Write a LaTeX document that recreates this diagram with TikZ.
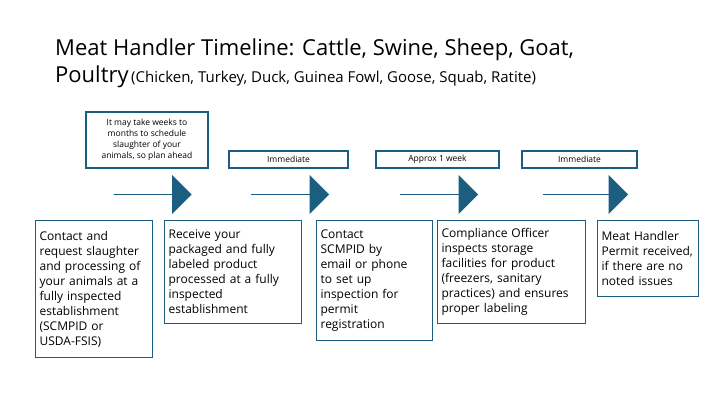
\documentclass[tikz,border=0pt]{standalone}
\usepackage{fontspec}
\setmainfont{Open Sans}
\usetikzlibrary{shapes.arrows,positioning}
\definecolor{tealblue}{HTML}{1B5E80}
\begin{document}
\begin{tikzpicture}[x=1pt,y=1pt,yscale=-1]
  \tikzstyle{stepbox} = [draw=tealblue,line width=1.2pt,anchor=north west,inner sep=4pt,align=left,font=\fontsize{12}{15}\selectfont]
  \tikzstyle{timing} = [draw=tealblue,line width=1.2pt,align=center,inner sep=2pt,font=\fontsize{8.5}{11}\selectfont]
  \tikzstyle{arrow} = [single arrow,fill=tealblue,draw=none,minimum height=78pt,minimum width=39pt,single arrow head extend=10pt,inner sep=0pt,single arrow tip angle=90]
  \useasboundingbox (0,0) rectangle (720,405);
  %Draw the title
  \node[anchor=base west,font=\fontsize{22}{24}\selectfont,inner sep=0pt] (title) at (55,55) {Meat Handler Timeline: Cattle, Swine, Sheep, Goat,};
  \node[anchor=base west,inner sep=0pt] (title2) at (55,82) {{\fontsize{22}{24}\selectfont Poultry} {\fontsize{15}{18}\selectfont (Chicken, Turkey, Duck, Guinea Fowl, Goose, Squab, Ratite)}};
  %Draw the steps
  \node[stepbox,text width=109pt,minimum height=137pt] (contact) at (35,220) {Contact and\\ request slaughter\\ and processing of\\ your animals at a\\ fully inspected\\ establishment\\ (SCMPID or\\ USDA-FSIS)};
  \node[stepbox,text width=129pt,minimum height=103pt,anchor=north west] (receive) at (164,220) {Receive your\\ packaged and fully\\ labeled product\\ processed at a fully\\ inspected\\ establishment};
  \node[stepbox,text width=108pt,minimum height=120pt] (scmpid) at (316,220) {Contact\\ SCMPID by\\ email or phone\\ to set up\\ inspection for\\ permit\\ registration};
  \node[stepbox,text width=140pt,minimum height=103pt] (officer) at (437,220) {Compliance Officer\\ inspects storage\\ facilities for product\\ (freezers, sanitary\\ practices) and ensures\\ proper labeling};
  \node[stepbox,text width=93pt,minimum height=76pt] (permit) at (597,220) {Meat Handler\\ Permit received,\\ if there are no\\ noted issues};
  %Draw the arrows
  \node[arrow] (arr1) at (152.5,194.5) {};
  \node[arrow] (arr2) at (290,194.5) {};
  \node[arrow] (arr3) at (439,194.5) {};
  \node[arrow,minimum height=85pt] (arr4) at (585.5,194.5) {};
  %Label the timing
  \node[timing,minimum width=122pt,minimum height=56pt] (weeks) at (147,140) {It may take weeks to\\ months to schedule\\ slaughter of your\\ animals, so plan ahead};
  \node[timing,minimum width=119pt,minimum height=17pt] (imm1) at (288.5,159.5) {Immediate};
  \node[timing,minimum width=123pt,minimum height=17pt] (week) at (437.5,159.5) {Approx 1 week};
  \node[timing,minimum width=115pt,minimum height=17pt] (imm2) at (579.5,159.5) {Immediate};
\end{tikzpicture}
\end{document}
